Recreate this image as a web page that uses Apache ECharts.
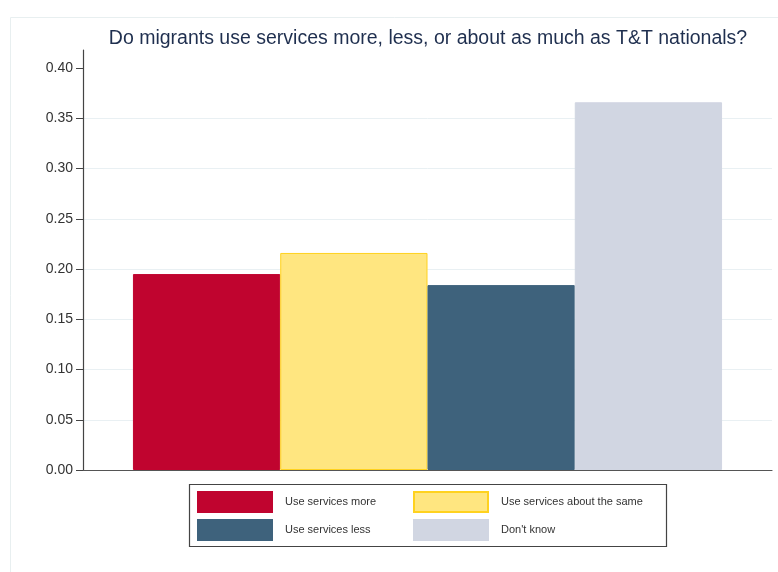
<!DOCTYPE html>
<html>
<head>
<meta charset="utf-8">
<script src="https://cdn.jsdelivr.net/npm/echarts@6/dist/echarts.min.js"></script>
<style>
  html, body { margin: 0; padding: 0; background: #fff; }
  #chart { width: 778px; height: 572px; }
</style>
</head>
<body>
<div id="chart"></div>
<script>
var seriesNames = ['Use services more', 'Use services about the same', 'Use services less', "Don't know"];
var shares = [0.195, 0.216, 0.184, 0.366];
var yTicks = [0, 0.05, 0.10, 0.15, 0.20, 0.25, 0.30, 0.35, 0.40];
var fills = ['#c0042f', '#ffe680', '#3e627c', '#d1d6e2'];
var edges = ['#c0042f', '#ffd21f', '#3e627c', '#d1d6e2'];

var myChart = echarts.init(document.getElementById('chart'));

var series = [];
for (var i = 0; i < seriesNames.length; i++) {
    series.push({
        name: seriesNames[i],
        type: 'bar',
        data: [shares[i]],
        barGap: '0%',
        barCategoryGap: '14.5%',
        itemStyle: { color: fills[i], borderColor: edges[i], borderWidth: 1 }
    });
}

var legendText = { fontFamily: 'Liberation Sans', fontSize: 11, color: '#333', padding: [0, 0, 0, 8] };

option = {
    animation: false,
    backgroundColor: '#fff',
    title: {
        text: 'Do migrants use services more, less, or about as much as T&T nationals?',
        left: 423, top: 24, textAlign: 'center',
        textStyle: { fontFamily: 'Liberation Sans', fontSize: 19.5, fontWeight: 'normal', color: '#1f2f4f' }
    },
    graphic: [
        { type: 'rect', shape: { x: 10.5, y: 17.5, width: 780, height: 600 }, style: { fill: 'none', stroke: '#e8eff0', lineWidth: 1 }, z: -1 },
        { type: 'rect', shape: { x: 189.5, y: 484.5, width: 477, height: 62 }, style: { fill: '#fff', stroke: '#444', lineWidth: 1.2 }, z: 0 }
    ],
    legend: [{
        data: [seriesNames[0], seriesNames[2]],
        orient: 'vertical', left: 197, top: 491, padding: 0,
        itemWidth: 74, itemHeight: 20, itemGap: 6,
        icon: 'rect', textStyle: legendText, z: 5
    }, {
        data: [seriesNames[1], seriesNames[3]],
        orient: 'vertical', left: 413, top: 491, padding: 0,
        itemWidth: 74, itemHeight: 20, itemGap: 6,
        icon: 'rect', textStyle: legendText, z: 5
    }],
    grid: { left: 83, right: 6, top: 50, bottom: 102, containLabel: false },
    xAxis: {
        type: 'category',
        data: [''],
        axisLine: { lineStyle: { color: '#555', width: 1.2 } },
        axisTick: { show: false },
        axisLabel: { show: false }
    },
    yAxis: {
        type: 'value',
        min: 0, max: 0.418, interval: 0.05,
        axisLine: { show: true, lineStyle: { color: '#444', width: 1.2 } },
        axisTick: { show: true, length: 7, lineStyle: { color: '#444' }, customValues: yTicks },
        axisLabel: {
            customValues: yTicks, margin: 10,
            fontFamily: 'Liberation Sans', fontSize: 14, color: '#333',
            formatter: function (v) { return v.toFixed(2); }
        },
        splitLine: { show: true, showMaxLine: false, lineStyle: { color: '#e9f0f3' } }
    },
    series: series
};

myChart.setOption(option, true);
</script>
</body>
</html>
